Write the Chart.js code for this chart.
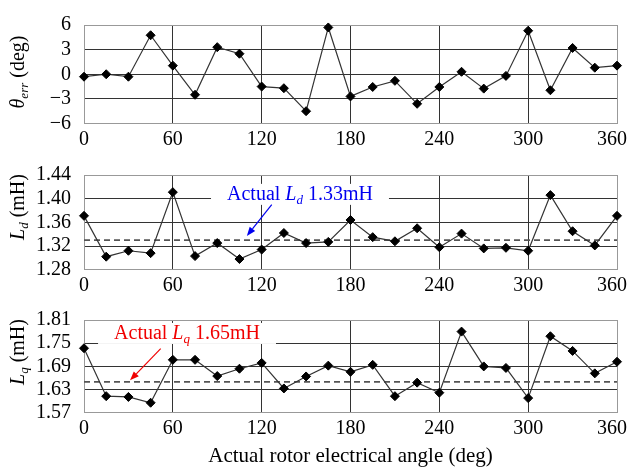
<!DOCTYPE html>
<html>
<head>
<meta charset="utf-8">
<script src="https://cdn.jsdelivr.net/npm/chart.js@4.4.0/dist/chart.umd.min.js"></script>
<style>
body { margin: 0; background: #fff; }
#wrap { position: relative; width: 632px; height: 472px; }
.pane { position: absolute; left: 0; width: 632px; }
</style>
</head>
<body>
<div id="wrap">
  <div class="pane" style="top:0;height:150px"><canvas id="c1" width="632" height="150"></canvas></div>
  <div class="pane" style="top:150px;height:145px"><canvas id="c2" width="632" height="145"></canvas></div>
  <div class="pane" style="top:295px;height:177px"><canvas id="c3" width="632" height="177"></canvas></div>
</div>
<script>
// angoli rotore (deg)
const angoli = [0, 15, 30, 45, 60, 75, 90, 105, 120, 135, 150, 165, 180,
                195, 210, 225, 240, 255, 270, 285, 300, 315, 330, 345, 360];
// errore di stima (deg)
const thetaErr = [-0.3, 0.0, -0.3, 4.75, 1.05, -2.5, 3.3, 2.5, -1.5, -1.7, -4.5, 5.7, -2.7,
                  -1.55, -0.8, -3.6, -1.55, 0.3, -1.75, -0.2, 5.3, -1.95, 3.2, 0.8, 1.05];
// induttanza asse d stimata (mH)
const ldStimata = [1.371, 1.302, 1.312, 1.308, 1.411, 1.303, 1.325, 1.298, 1.314, 1.342, 1.325, 1.327, 1.364,
                   1.335, 1.328, 1.350, 1.318, 1.341, 1.316, 1.317, 1.312, 1.406, 1.345, 1.321, 1.371];
// induttanza asse q stimata (mH)
const lqStimata = [1.737, 1.613, 1.611, 1.596, 1.707, 1.707, 1.665, 1.684, 1.699, 1.633, 1.664, 1.692, 1.676,
                   1.694, 1.613, 1.648, 1.622, 1.780, 1.690, 1.686, 1.608, 1.768, 1.730, 1.672, 1.702];
const ldReale = 1.33;
const lqReale = 1.65;

const xTicks = [0, 60, 120, 180, 240, 300, 360];
const yTicksTheta = [-6, -3, 0, 3, 6];
const yTicksLd = [1.28, 1.32, 1.36, 1.40, 1.44];
const yTicksLq = [1.57, 1.63, 1.69, 1.75, 1.81];

const FONT = "'Liberation Serif', 'Times New Roman', serif";
Chart.defaults.font.family = FONT;
Chart.defaults.color = '#000';

function font(size, italic) {
    return (italic ? 'italic ' : '') + size + 'px ' + FONT;
}

// disegna testo composto (parti normali, corsive, pedici)
function disegnaParti(ctx, parti, x, y, size) {
    let pos = x;
    parti.forEach(p => {
        const s = p.sub ? size * 0.65 : size;
        ctx.font = font(s, p.i);
        ctx.fillText(p.t, pos, y + (p.sub ? size * 0.22 : 0));
        pos += ctx.measureText(p.t).width;
    });
    return pos - x;
}
function larghezzaParti(ctx, parti, size) {
    let w = 0;
    parti.forEach(p => {
        ctx.font = font(p.sub ? size * 0.65 : size, p.i);
        w += ctx.measureText(p.t).width;
    });
    return w;
}

const extraPlugin = {
    id: 'extra',
    beforeDatasetsDraw(chart, args, opts) {
        const nota = opts.nota;
        if (!nota) return;
        const ctx = chart.ctx;
        const xs = chart.scales.x, ys = chart.scales.y;
        const x0 = xs.getPixelForValue(nota.x);
        const y0 = ys.getPixelForValue(nota.y);
        const w = larghezzaParti(ctx, nota.testo, 20);
        ctx.save();
        ctx.fillStyle = '#fff';
        ctx.fillRect(x0 - 16, y0 - 16, w + 32, 21);
        ctx.restore();
    },
    afterDraw(chart, args, opts) {
        const ctx = chart.ctx;
        const xs = chart.scales.x, ys = chart.scales.y;
        const area = chart.chartArea;
        ctx.save();
        // etichette asse x
        ctx.fillStyle = '#000';
        ctx.font = font(20);
        ctx.textAlign = 'center';
        ctx.textBaseline = 'middle';
        xTicks.forEach(v => {
            const s = String(v);
            const w = ctx.measureText(s).width;
            let px = xs.getPixelForValue(v);
            px = Math.min(px, chart.width - 5 - w / 2);
            ctx.fillText(s, px, area.bottom + 16);
        });
        // titolo asse y
        ctx.textAlign = 'left';
        ctx.textBaseline = 'alphabetic';
        const tw = larghezzaParti(ctx, opts.titolo, 20);
        ctx.translate(24, opts.titoloY);
        ctx.rotate(-Math.PI / 2);
        disegnaParti(ctx, opts.titolo, -tw / 2, 0, 20);
        ctx.restore();

        const nota = opts.nota;
        if (nota) {
            ctx.save();
            ctx.fillStyle = nota.colore;
            ctx.strokeStyle = nota.colore;
            ctx.textAlign = 'left';
            ctx.textBaseline = 'alphabetic';
            disegnaParti(ctx, nota.testo, xs.getPixelForValue(nota.x), ys.getPixelForValue(nota.y), 20);
            const ax = xs.getPixelForValue(nota.freccia[0][0]), ay = ys.getPixelForValue(nota.freccia[0][1]);
            const bx = xs.getPixelForValue(nota.freccia[1][0]), by = ys.getPixelForValue(nota.freccia[1][1]);
            const ang = Math.atan2(by - ay, bx - ax);
            const L = 9, H = 3.5;
            ctx.lineWidth = 1.2;
            ctx.beginPath();
            ctx.moveTo(ax, ay);
            ctx.lineTo(bx - Math.cos(ang) * L, by - Math.sin(ang) * L);
            ctx.stroke();
            ctx.beginPath();
            ctx.moveTo(bx, by);
            ctx.lineTo(bx - Math.cos(ang) * L - Math.sin(ang) * H, by - Math.sin(ang) * L + Math.cos(ang) * H);
            ctx.lineTo(bx - Math.cos(ang) * L + Math.sin(ang) * H, by - Math.sin(ang) * L - Math.cos(ang) * H);
            ctx.closePath();
            ctx.fill();
            ctx.restore();
        }
    }
};

function creaGrafico(id, valori, yTicks, cfg) {
    const minY = yTicks[0], maxY = yTicks[yTicks.length - 1];
    const datasets = [{
        data: angoli.map((a, i) => ({ x: a, y: valori[i] })),
        borderColor: '#333',
        borderWidth: 1.2,
        pointStyle: 'rectRot',
        pointRadius: 4.5,
        pointBackgroundColor: '#000',
        pointBorderColor: '#000',
        pointBorderWidth: 1,
        tension: 0,
        clip: false,
        order: 1
    }];
    if (cfg.riferimento !== undefined) {
        datasets.push({
            data: [{ x: 0, y: cfg.riferimento }, { x: 360, y: cfg.riferimento }],
            borderColor: '#555',
            borderWidth: 1.6,
            borderDash: [6, 4],
            pointRadius: 0,
            order: 2
        });
    }
    return new Chart(document.getElementById(id), {
        type: 'line',
        data: { datasets },
        plugins: [extraPlugin],
        options: {
            responsive: false,
            animation: false,
            devicePixelRatio: 1,
            layout: { padding: { top: cfg.padTop, right: 15, bottom: 0, left: 0 } },
            plugins: {
                legend: { display: false },
                tooltip: { enabled: false },
                extra: { titolo: cfg.titolo, titoloY: cfg.titoloY, nota: cfg.nota }
            },
            scales: {
                x: {
                    type: 'linear',
                    min: 0, max: 360,
                    afterBuildTicks: s => { s.ticks = xTicks.map(v => ({ value: v })); },
                    afterFit: s => { s.height = cfg.altX; },
                    ticks: { display: false, autoSkip: false },
                    grid: {
                        drawTicks: false,
                        color: c => (c.tick && (c.tick.value === 0 || c.tick.value === 360)) ? '#999' : '#333'
                    },
                    border: { color: '#999' },
                    title: cfg.titoloX ? {
                        display: true, text: cfg.titoloX, color: '#000',
                        font: { size: 21, family: FONT }, padding: { top: 0, bottom: 2.5 }
                    } : { display: false }
                },
                y: {
                    min: minY, max: maxY,
                    afterBuildTicks: s => { s.ticks = yTicks.map(v => ({ value: v })); },
                    afterFit: s => { s.width = 84; },
                    ticks: {
                        autoSkip: false,
                        padding: 13,
                        font: { size: 20, family: FONT },
                        color: '#000',
                        callback: v => cfg.decimali ? v.toFixed(cfg.decimali) : String(v).replace('-', '\u2212')
                    },
                    grid: {
                        drawTicks: false,
                        color: c => (c.tick && (c.tick.value === minY || c.tick.value === maxY)) ? '#999' : '#333'
                    },
                    border: { color: '#999' }
                }
            }
        }
    });
}

creaGrafico('c1', thetaErr, yTicksTheta, {
    padTop: 21, altX: 26.5, titoloY: 72,
    titolo: [{ t: '\u03b8', i: true }, { t: 'err', i: true, sub: true }, { t: ' (deg)' }]
});

creaGrafico('c2', ldStimata, yTicksLd, {
    padTop: 15.7, altX: 25.3, titoloY: 57, decimali: 2, riferimento: ldReale,
    titolo: [{ t: 'L', i: true }, { t: 'd', i: true, sub: true }, { t: ' (mH)' }],
    nota: {
        testo: [{ t: 'Actual ' }, { t: 'L', i: true }, { t: 'd', i: true, sub: true }, { t: ' 1.33mH' }],
        x: 96.6, y: 1.398, colore: '#0000f0',
        freccia: [[126.8, 1.390], [110, 1.337]]
    }
});

creaGrafico('c3', lqStimata, yTicksLq, {
    padTop: 15, altX: 59.2, titoloY: 57, decimali: 2, riferimento: lqReale,
    titoloX: 'Actual rotor electrical angle (deg)',
    titolo: [{ t: 'L', i: true }, { t: 'q', i: true, sub: true }, { t: ' (mH)' }],
    nota: {
        testo: [{ t: 'Actual ' }, { t: 'L', i: true }, { t: 'q', i: true, sub: true }, { t: ' 1.65mH' }],
        x: 20.3, y: 1.761, colore: '#f00000',
        freccia: [[51.8, 1.736], [31.1, 1.654]]
    }
});
</script>
</body>
</html>
